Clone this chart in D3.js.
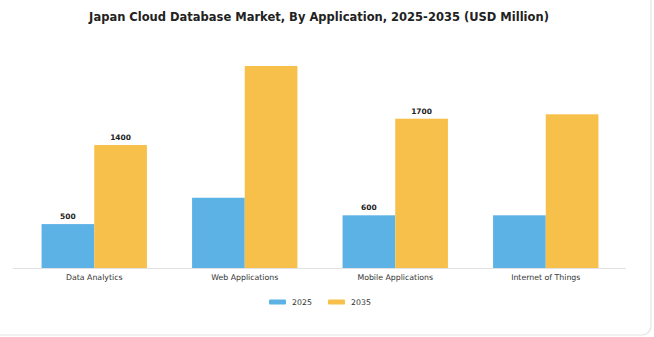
<!DOCTYPE html>
<html><head><meta charset="utf-8">
<script src="https://cdn.jsdelivr.net/npm/d3@7/dist/d3.min.js"></script>
<style>html,body{margin:0;padding:0;background:#fff;}svg{display:block;}</style>
</head><body>
<script>
const title = "Japan Cloud Database Market, By Application, 2025-2035 (USD Million)";
const categories = ["Data Analytics", "Web Applications", "Mobile Applications", "Internet of Things"];
const seriesNames = ["2025", "2035"];
const values2025 = [500, 800, 600, 600];
const values2035 = [1400, 2300, 1700, 1750];
const labels2025 = ["500", null, "600", null];
const labels2035 = ["1400", null, "1700", null];
const colors = ["#5DB2E5", "#F7C04A"];

const W = 654, H = 337;
const svg = d3.select("body").append("svg").attr("width", W).attr("height", H);

svg.append("rect").attr("x", -20).attr("y", -20).attr("width", W - 3 + 20).attr("height", H - 2 + 20)
  .attr("rx", 9).attr("fill", "#fff").attr("stroke", "#e4e4e4").attr("stroke-width", 1.2);

svg.append("text").attr("x", 319).attr("y", 21).attr("text-anchor", "middle")
  .attr("font-family", "DejaVu Sans").attr("font-weight", "bold").attr("font-size", 11.5)
  .attr("fill", "#222").text(title);

const baseY = 268;
const x = d3.scaleBand().domain(categories).range([19, 621]).paddingInner(0.3).paddingOuter(0.15);
const sub = d3.scaleBand().domain(seriesNames).range([0, x.bandwidth()]);
const y = d3.scaleLinear().domain([0, 2300]).range([baseY, 66]);

const data = [values2025, values2035];
const labs = [labels2025, labels2035];

seriesNames.forEach((s, si) => {
  const g = svg.append("g");
  g.selectAll("rect").data(categories).join("rect")
    .attr("x", d => x(d) + sub(s))
    .attr("y", (d, i) => y(data[si][i]))
    .attr("width", sub.bandwidth())
    .attr("height", (d, i) => baseY - y(data[si][i]))
    .attr("fill", colors[si]);
  g.selectAll("text").data(categories.filter((d, i) => labs[si][i] !== null)).join("text")
    .attr("x", d => x(d) + sub(s) + sub.bandwidth() / 2)
    .attr("y", d => y(data[si][categories.indexOf(d)]) - 5)
    .attr("text-anchor", "middle")
    .attr("font-family", "DejaVu Sans").attr("font-weight", "bold").attr("font-size", 7.5)
    .attr("fill", "#222")
    .text(d => labs[si][categories.indexOf(d)]);
});

svg.append("line").attr("x1", 13).attr("x2", 626).attr("y1", baseY + 0.5).attr("y2", baseY + 0.5)
  .attr("stroke", "#e2e2e2").attr("stroke-width", 1);

const xAxis = svg.append("g").attr("transform", `translate(0,${baseY})`)
  .call(d3.axisBottom(x).tickSize(0).tickPadding(6));
xAxis.select(".domain").remove();
xAxis.selectAll("text").attr("font-family", "DejaVu Sans").attr("font-size", 7.8).attr("fill", "#333");

const legend = svg.append("g");
const lx = [269, 328];
seriesNames.forEach((s, i) => {
  legend.append("rect").attr("x", lx[i]).attr("y", 299.5).attr("width", 17).attr("height", 5)
    .attr("rx", 1).attr("fill", colors[i]);
  legend.append("text").attr("x", lx[i] + 23).attr("y", 305).attr("font-family", "DejaVu Sans")
    .attr("font-size", 7.8).attr("fill", "#333").text(s);
});
</script>
</body></html>
